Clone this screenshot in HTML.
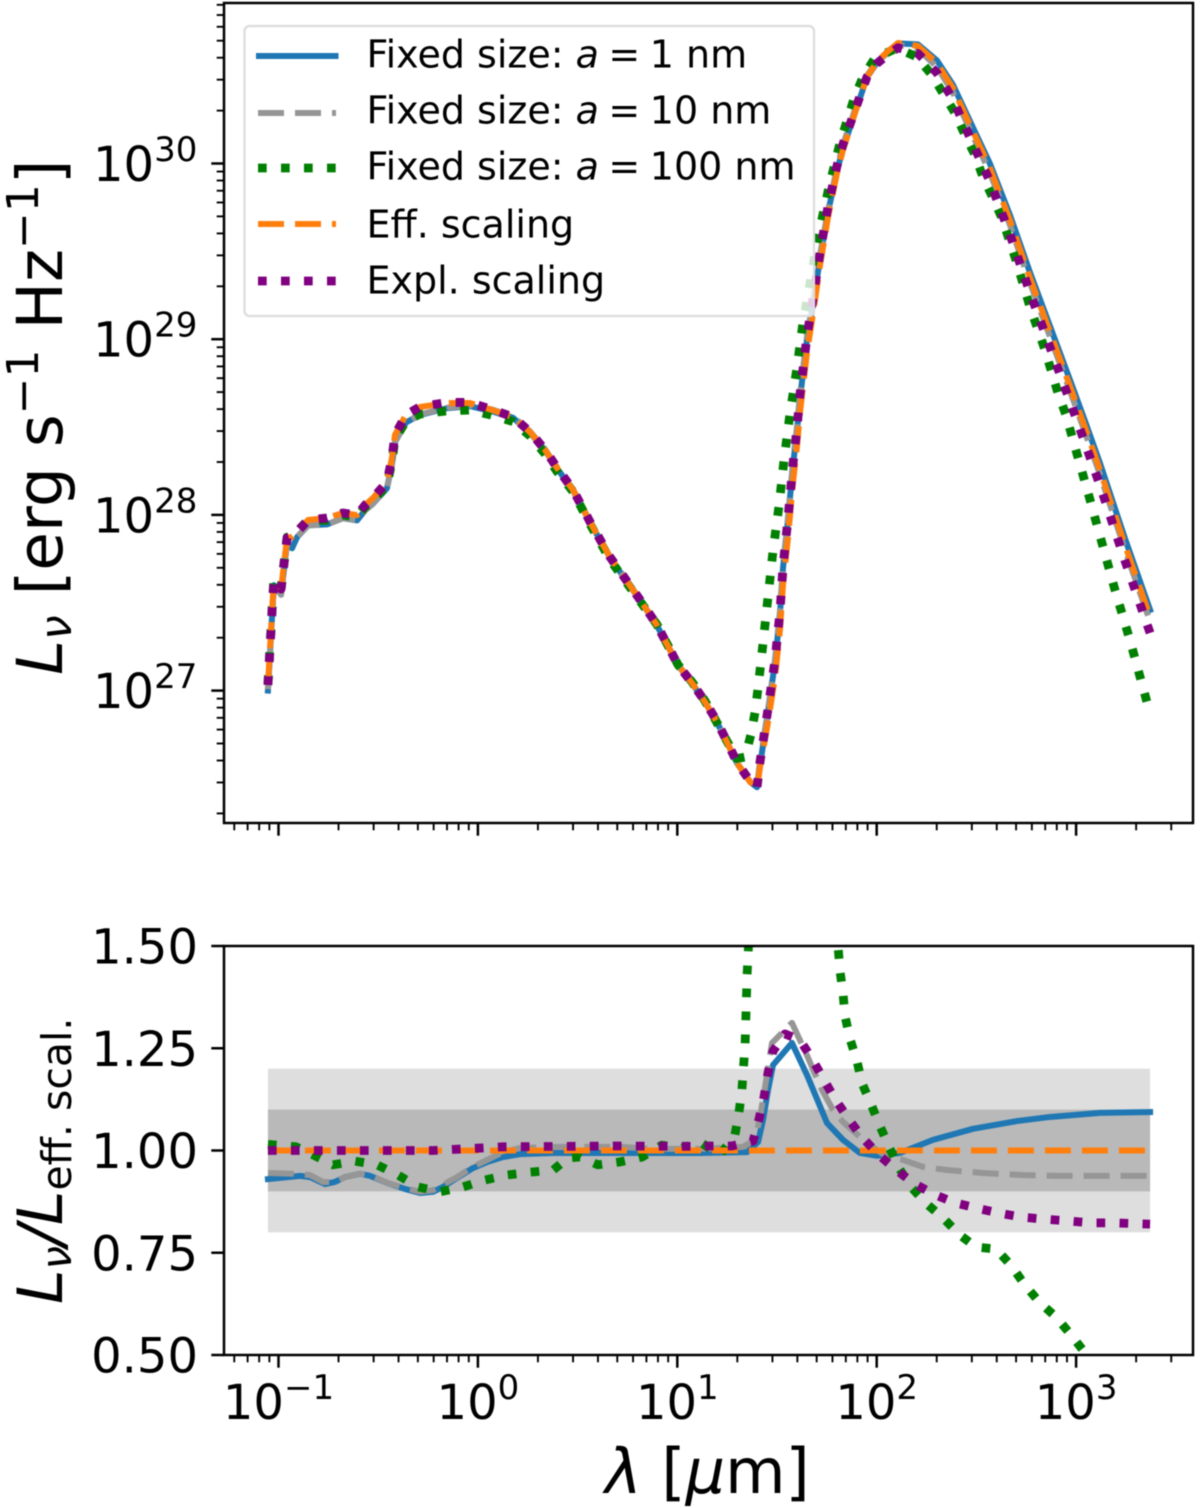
<!DOCTYPE html>
<html lang="en">
<head>
<meta charset="utf-8">
<title>Spectral luminosity by grain size</title>
<style>
html,body{margin:0;padding:0;background:#fff;}
svg{display:block;font-family:"DejaVu Sans","Liberation Sans",sans-serif;filter:blur(0.45px);}
text{fill:#000;}
.it{font-style:italic;}
</style>
</head>
<body>
<svg id="chart" xmlns="http://www.w3.org/2000/svg" width="1200" height="1508" viewBox="0 0 1200 1508">
  <defs>
    <clipPath id="clip-top"><rect x="224" y="3" width="969" height="820"/></clipPath>
    <clipPath id="clip-bottom"><rect x="224" y="946" width="969" height="409"/></clipPath>
  </defs>
  <rect x="0" y="0" width="1200" height="1508" fill="#fff"/>
  <g id="top-panel"></g>
  <g id="bottom-panel"></g>

  <g>
    <rect x="244.5" y="26" width="569.5" height="290" rx="5" ry="5" fill="rgba(255,255,255,0.8)" stroke="#dcdcdc" stroke-width="2.2"/>
    <g>
      <line x1="256" x2="338.5" y1="56" y2="56" stroke="#1f77b4" stroke-width="6"/>
      <text x="366.5" y="67.5" font-size="38" xml:space="preserve">Fixed size: <tspan class="it">a</tspan><tspan dx="9.5">=</tspan><tspan dx="9.5">1 nm</tspan></text>
    </g>
    <g>
      <line x1="258" x2="336" y1="113" y2="113" stroke="#969696" stroke-width="6" stroke-dasharray="26 11"/>
      <text x="366.5" y="123.5" font-size="38" xml:space="preserve">Fixed size: <tspan class="it">a</tspan><tspan dx="9.5">=</tspan><tspan dx="9.5">10 nm</tspan></text>
    </g>
    <g>
      <line x1="258" x2="336" y1="168" y2="168" stroke="#008000" stroke-width="8.8" stroke-dasharray="8.7 14.3"/>
      <text x="366.5" y="179.5" font-size="38" xml:space="preserve">Fixed size: <tspan class="it">a</tspan><tspan dx="9.5">=</tspan><tspan dx="9.5">100 nm</tspan></text>
    </g>
    <g>
      <line x1="258" x2="336" y1="224" y2="224" stroke="#ff7f0e" stroke-width="6" stroke-dasharray="26 11"/>
      <text x="366.5" y="237.5" font-size="38">Eff. scaling</text>
    </g>
    <g>
      <line x1="258" x2="336" y1="281" y2="281" stroke="#800080" stroke-width="8.8" stroke-dasharray="8.7 14.3"/>
      <text x="366.5" y="293.5" font-size="38">Expl. scaling</text>
    </g>
  </g>

  <text transform="translate(62,675) rotate(-90)" font-size="63" xml:space="preserve"><tspan class="it">L</tspan><tspan class="it" font-size="44" dy="9">ν</tspan><tspan dy="-9"> [erg s</tspan><tspan font-size="44" dy="-24">−1</tspan><tspan dy="24"> Hz</tspan><tspan font-size="44" dy="-24">−1</tspan><tspan dy="24">]</tspan></text>
  <text transform="translate(62,1304) rotate(-90)" font-size="62" xml:space="preserve"><tspan class="it">L</tspan><tspan class="it" font-size="42" dy="9">ν</tspan><tspan class="it" dy="-9">/L</tspan><tspan font-size="41" dy="9">eff. scal.</tspan></text>
  <text x="605" y="1493" font-size="62" xml:space="preserve"><tspan class="it">λ</tspan> [<tspan class="it">μ</tspan>m]</text>
</svg>
<script>
// ---- top panel data: log10 wavelength (micron) and log10 L_nu (erg/s/Hz) ----
const lambdaGrid = [-1.053,-1.043,-1.033,-1.023,-0.987,-0.972,-0.957,-0.932,-0.907,-0.852,-0.757,-0.677,-0.606,-0.566,-0.526,-0.456,-0.431,-0.416,-0.361,-0.290,-0.155,-0.040,0.071,0.176,0.261,0.337,0.397,0.477,0.562,0.662,0.813,0.898,1.003,1.074,1.139,1.199,1.249,1.299,1.365,1.400,1.415,1.455,1.490,1.515,1.530,1.555,1.580,1.600,1.615,1.650,1.681,1.716,1.756,1.801,1.831,1.901,1.951,2.001,2.052,2.107,2.207,2.302,2.382,2.468,2.568,2.668,2.769,2.869,2.969,3.044,3.120,3.245,3.371];
const lumEff = [27.032,27.231,27.442,27.629,27.578,27.726,27.869,27.875,27.903,27.971,27.982,28.011,27.999,28.056,28.096,28.187,28.324,28.455,28.569,28.614,28.637,28.637,28.597,28.557,28.472,28.369,28.267,28.142,27.960,27.760,27.516,27.373,27.146,27.043,26.935,26.821,26.707,26.588,26.480,26.446,26.565,26.821,27.077,27.345,27.601,27.869,28.182,28.386,28.580,28.921,29.149,29.422,29.696,29.946,30.077,30.322,30.492,30.578,30.635,30.686,30.669,30.572,30.430,30.219,29.974,29.678,29.348,29.041,28.734,28.500,28.256,27.829,27.420];
const lumA1 = [27.000,27.200,27.410,27.600,27.548,27.696,27.840,27.810,27.873,27.940,27.946,27.981,27.969,28.026,28.064,28.152,28.289,28.415,28.526,28.569,28.607,28.619,28.589,28.553,28.469,28.367,28.265,28.140,27.958,27.758,27.514,27.371,27.144,27.041,26.933,26.820,26.706,26.588,26.480,26.450,26.575,26.881,27.163,27.438,27.696,27.969,28.282,28.474,28.659,28.995,29.206,29.459,29.723,29.959,30.086,30.322,30.490,30.573,30.631,30.684,30.678,30.587,30.449,30.240,29.999,29.707,29.379,29.074,28.769,28.536,28.293,27.866,27.459];
const lumA10 = [27.008,27.207,27.418,27.605,27.545,27.696,27.840,27.835,27.875,27.940,27.946,27.981,27.969,28.026,28.064,28.152,28.289,28.415,28.526,28.572,28.610,28.624,28.600,28.560,28.476,28.373,28.270,28.146,27.964,27.764,27.520,27.376,27.149,27.045,26.935,26.821,26.707,26.590,26.482,26.460,26.598,26.889,27.177,27.452,27.710,27.983,28.299,28.496,28.684,29.013,29.221,29.482,29.733,29.976,30.107,30.339,30.501,30.578,30.628,30.677,30.651,30.550,30.405,30.192,29.947,29.651,29.321,29.014,28.707,28.473,28.229,27.802,27.393];
const lumExpl = [27.032,27.231,27.442,27.629,27.578,27.726,27.869,27.875,27.903,27.971,27.982,28.011,27.999,28.056,28.096,28.187,28.324,28.455,28.569,28.616,28.640,28.640,28.599,28.558,28.473,28.370,28.268,28.143,27.961,27.761,27.517,27.374,27.147,27.044,26.938,26.825,26.710,26.592,26.484,26.450,26.596,26.897,27.174,27.449,27.707,27.978,28.289,28.490,28.684,29.014,29.235,29.494,29.757,29.987,30.110,30.335,30.492,30.569,30.617,30.659,30.626,30.516,30.365,30.148,29.898,29.597,29.264,28.955,28.648,28.411,28.167,27.740,27.328];
const lambdaA100Top = [-1.053,-1.043,-1.033,-1.023,-0.987,-0.972,-0.957,-0.932,-0.907,-0.852,-0.757,-0.677,-0.606,-0.566,-0.526,-0.456,-0.431,-0.416,-0.361,-0.290,-0.155,-0.040,0.071,0.176,0.261,0.337,0.397,0.477,0.562,0.662,0.813,0.898,1.003,1.074,1.139,1.199,1.249,1.299,1.340,1.370,1.390,1.405,1.430,1.455,1.480,1.510,1.535,1.565,1.600,1.630,1.671,1.711,1.761,1.816,1.886,1.931,1.991,2.102,2.202,2.277,2.332,2.393,2.443,2.493,2.533,2.583,2.628,2.703,2.769,2.844,2.909,2.949,3.070,3.195,3.270,3.371];
const lumA100 = [27.038,27.237,27.448,27.635,27.582,27.730,27.873,27.879,27.906,27.970,27.970,27.999,27.987,28.044,28.082,28.167,28.302,28.430,28.534,28.574,28.592,28.597,28.567,28.531,28.450,28.347,28.247,28.133,27.948,27.746,27.509,27.376,27.148,27.049,26.941,26.817,26.712,26.613,26.622,26.753,26.878,27.015,27.271,27.533,27.795,28.051,28.312,28.574,28.836,29.092,29.354,29.610,29.866,30.117,30.367,30.492,30.600,30.657,30.606,30.504,30.401,30.287,30.162,30.048,29.923,29.804,29.690,29.434,29.183,28.939,28.694,28.569,28.085,27.573,27.288,26.870];

// ---- bottom panel data: L_nu / L_eff.scal. ratios ----
const ratioA1X = [-1.053,-0.892,-0.842,-0.767,-0.717,-0.667,-0.591,-0.541,-0.456,-0.366,-0.290,-0.225,-0.175,-0.105,-0.025,0.046,0.126,0.211,0.377,0.712,1.114,1.350,1.405,1.430,1.455,1.480,1.575,1.650,1.751,1.831,1.916,2.001,2.117,2.282,2.483,2.704,2.869,3.120,3.371];
const ratioA1 = [0.930,0.938,0.935,0.918,0.923,0.935,0.943,0.938,0.921,0.906,0.896,0.899,0.911,0.933,0.957,0.972,0.984,0.991,0.994,0.994,0.994,0.996,1.021,1.075,1.148,1.209,1.263,1.185,1.067,1.026,0.994,0.987,0.994,1.026,1.053,1.072,1.082,1.092,1.094];
const ratioA10X = [-1.053,-0.927,-0.842,-0.777,-0.717,-0.667,-0.591,-0.541,-0.456,-0.366,-0.290,-0.225,-0.175,-0.105,-0.025,0.046,0.126,0.211,0.377,0.712,0.878,1.114,1.330,1.390,1.415,1.440,1.475,1.575,1.650,1.726,1.781,1.831,1.916,2.001,2.057,2.132,2.232,2.358,2.533,2.729,2.909,3.105,3.371];
const ratioA10 = [0.945,0.943,0.940,0.923,0.923,0.935,0.943,0.940,0.921,0.908,0.899,0.903,0.916,0.935,0.960,0.977,0.996,1.006,1.009,1.009,1.004,1.004,1.009,1.026,1.082,1.155,1.263,1.312,1.233,1.148,1.099,1.070,1.033,1.001,0.984,0.977,0.960,0.952,0.945,0.940,0.938,0.938,0.938];
const ratioA100X = [-1.053,-0.912,-0.817,-0.727,-0.616,-0.506,-0.401,-0.300,-0.190,-0.075,0.036,0.146,0.261,0.377,0.452,0.512,0.602,0.712,0.823,0.923,1.024,1.114,1.214,1.289,1.309,1.324,1.340,1.350,1.357,1.390,1.415,1.465,1.515,1.565,1.615,1.691,1.766,1.806,1.816,1.831,1.841,1.866,1.901,1.926,1.971,2.016,2.062,2.112,2.172,2.252,2.337,2.418,2.498,2.598,2.673,2.739,2.814,2.899,2.975,3.045,3.170,3.371];
const ratioA100 = [1.015,1.009,0.987,0.965,0.974,0.965,0.940,0.911,0.899,0.911,0.928,0.940,0.947,0.952,0.982,0.984,0.965,0.972,0.984,1.013,1.006,1.021,0.989,1.038,1.092,1.148,1.260,1.429,1.500,2.600,3.700,5.900,5.500,3.800,2.600,2.000,1.700,1.500,1.439,1.385,1.329,1.273,1.219,1.165,1.114,1.060,1.009,0.957,0.911,0.869,0.833,0.793,0.764,0.759,0.720,0.674,0.630,0.593,0.549,0.505,0.430,0.340];
const ratioEffX = [-1.053,3.371];
const ratioEff = [1,1];
const ratioExplX = [-1.053,-0.225,0.010,0.126,0.700,1.114,1.154,1.274,1.380,1.410,1.435,1.455,1.480,1.540,1.615,1.676,1.736,1.791,1.856,1.926,2.006,2.092,2.182,2.282,2.393,2.503,2.613,2.729,2.844,2.959,3.075,3.190,3.371];
const ratioExpl = [1.000,1.000,1.006,1.009,1.011,1.010,1.011,1.011,1.023,1.077,1.131,1.190,1.243,1.285,1.270,1.224,1.172,1.126,1.079,1.033,0.991,0.955,0.921,0.894,0.872,0.859,0.847,0.837,0.832,0.828,0.823,0.823,0.820];
const bandInner = [0.9,1.1];
const bandOuter = [0.8,1.2];
const bandRangeX = [-1.053,3.371];

// ---- tick values and labels ----
const xTickExponents = [-1,0,1,2,3];
const xTickLabels = ["−1","0","1","2","3"];
const xMinorDecades = [-2,-1,0,1,2,3];
const minorMultipliers = [2,3,4,5,6,7,8,9];
const yTopTickExponents = [27,28,29,30];
const yTopTickLabels = ["27","28","29","30"];
const yTopMinorDecades = [26,27,28,29,30];
const yBottomTicks = [0.5,0.75,1,1.25,1.5];
const yBottomTickLabels = ["0.50","0.75","1.00","1.25","1.50"];

// ---- axis functions ----
const AX = {left:224,right:1193,topT:3,topB:823,botT:946,botB:1355};
function xScale(logLambda){ return 278.5 + 199.4*(logLambda+1); }
function yTop(logL){ return 163.5 + 175.7*(30-logL); }
function yBottom(r){ return 1150.5 + (1-r)*409; }

const NS = "http://www.w3.org/2000/svg";
function el(tag, parent){
  const e = document.createElementNS(NS, tag);
  parent.appendChild(e);
  return e;
}
function pathFrom(xs, ys, yFn){
  let d = "";
  for(let i=0;i<xs.length;i++){
    d += (i?"L":"M") + xScale(xs[i]).toFixed(2) + " " + yFn(ys[i]).toFixed(2);
  }
  return d;
}
function drawSeries(parent, xs, ys, yFn, style, name){
  const p = el("path", parent);
  
  
  p.setAttribute("d", pathFrom(xs, ys, yFn));
  p.setAttribute("fill", "none");
  p.setAttribute("stroke", style.color);
  p.setAttribute("stroke-width", style.width);
  p.setAttribute("stroke-linejoin", "round");
  p.setAttribute("stroke-linecap", style.cap);
  if(style.dash){ p.setAttribute("stroke-dasharray", style.dash); }
}
const solid = {color:"#1f77b4",width:6,cap:"square",dash:null};
const dashGray = {color:"#969696",width:6,cap:"butt",dash:"26 11"};
const dotGreen = {color:"#008000",width:8.8,cap:"butt",dash:"8.7 14.3"};
const dashOrange = {color:"#ff7f0e",width:6,cap:"butt",dash:"26 11"};
const dotPurple = {color:"#800080",width:8.8,cap:"butt",dash:"8.7 14.3"};

function tick(parent, x1, y1, x2, y2, w, name){
  const t = el("line", parent);
  
  
  t.setAttribute("x1", x1); t.setAttribute("y1", y1);
  t.setAttribute("x2", x2); t.setAttribute("y2", y2);
  t.setAttribute("stroke", "#000");
  t.setAttribute("stroke-width", w);
}
function drawXTicks(parent, yBase){
  xTickExponents.forEach(function(k){
    const x = xScale(k);
    tick(parent, x, yBase, x, yBase+12.7, 2.5, "x-major-tick");
  });
  xMinorDecades.forEach(function(k){
    minorMultipliers.forEach(function(m){
      const x = xScale(k+Math.log10(m));
      if(x>=AX.left && x<=AX.right){
        tick(parent, x, yBase, x, yBase+7.3, 1.9, "x-minor-tick");
      }
    });
  });
}
function spines(parent, top, bottom){
  const r = el("rect", parent);
  
  
  r.setAttribute("x", AX.left); r.setAttribute("y", top);
  r.setAttribute("width", AX.right-AX.left); r.setAttribute("height", bottom-top);
  r.setAttribute("fill", "none");
  r.setAttribute("stroke", "#000");
  r.setAttribute("stroke-width", 2.5);
}
function powerLabel(parent, x, y, anchor, exp, name){
  const t = el("text", parent);
  
  
  t.setAttribute("x", x); t.setAttribute("y", y);
  t.setAttribute("text-anchor", anchor);
  t.setAttribute("font-size", 48);
  const a = el("tspan", t); a.textContent = "10";
  const b = el("tspan", t);
  b.setAttribute("font-size", 34);
  b.setAttribute("dy", -20);
  b.textContent = exp;
}

// ---- top panel ----
const topPanel = document.getElementById("top-panel");
const topLines = el("g", topPanel);


topLines.setAttribute("clip-path", "url(#clip-top)");
drawSeries(topLines, lambdaGrid, lumA1, yTop, solid, "sed-line-1nm");
drawSeries(topLines, lambdaGrid, lumA10, yTop, dashGray, "sed-line-10nm");
drawSeries(topLines, lambdaA100Top, lumA100, yTop, dotGreen, "sed-line-100nm");
drawSeries(topLines, lambdaGrid, lumEff, yTop, dashOrange, "sed-line-eff-scaling");
drawSeries(topLines, lambdaGrid, lumExpl, yTop, dotPurple, "sed-line-expl-scaling");
drawXTicks(topPanel, AX.topB);
yTopTickExponents.forEach(function(k,i){
  const y = yTop(k);
  tick(topPanel, AX.left-12.7, y, AX.left, y, 2.5, "y-major-tick");
  powerLabel(topPanel, 93, y+17.5, "start", yTopTickLabels[i], "y-tick-label");
});
yTopMinorDecades.forEach(function(k){
  minorMultipliers.forEach(function(m){
    const y = yTop(k+Math.log10(m));
    if(y>=AX.topT && y<=AX.topB){
      tick(topPanel, AX.left-7.3, y, AX.left, y, 1.9, "y-minor-tick");
    }
  });
});
spines(topPanel, AX.topT, AX.topB);

// ---- bottom panel ----
const botPanel = document.getElementById("bottom-panel");
function band(range, color, name){
  const r = el("rect", botPanel);
  
  
  const x0 = xScale(bandRangeX[0]), x1 = xScale(bandRangeX[1]);
  r.setAttribute("x", x0);
  r.setAttribute("width", x1-x0);
  r.setAttribute("y", yBottom(range[1]));
  r.setAttribute("height", yBottom(range[0])-yBottom(range[1]));
  r.setAttribute("fill", color);
}
band(bandOuter, "#dedede", "band-20-percent");
band(bandInner, "#b9b9b9", "band-10-percent");
const botLines = el("g", botPanel);


botLines.setAttribute("clip-path", "url(#clip-bottom)");
drawSeries(botLines, ratioA1X, ratioA1, yBottom, solid, "ratio-line-1nm");
drawSeries(botLines, ratioA10X, ratioA10, yBottom, dashGray, "ratio-line-10nm");
drawSeries(botLines, ratioA100X, ratioA100, yBottom, dotGreen, "ratio-line-100nm");
drawSeries(botLines, ratioEffX, ratioEff, yBottom, dashOrange, "ratio-line-eff-scaling");
drawSeries(botLines, ratioExplX, ratioExpl, yBottom, dotPurple, "ratio-line-expl-scaling");
drawXTicks(botPanel, AX.botB);
xTickExponents.forEach(function(k,i){
  powerLabel(botPanel, xScale(k), 1419, "middle", xTickLabels[i], "x-tick-label");
});
yBottomTicks.forEach(function(v,i){
  const y = yBottom(v);
  tick(botPanel, AX.left-12.7, y, AX.left, y, 2.5, "ratio-y-tick");
  const t = el("text", botPanel);
  
  
  t.setAttribute("x", 198);
  t.setAttribute("y", y+17.5);
  t.setAttribute("text-anchor", "end");
  t.setAttribute("font-size", 48);
  t.textContent = yBottomTickLabels[i];
});
spines(botPanel, AX.botT, AX.botB);
</script>
</body>
</html>
